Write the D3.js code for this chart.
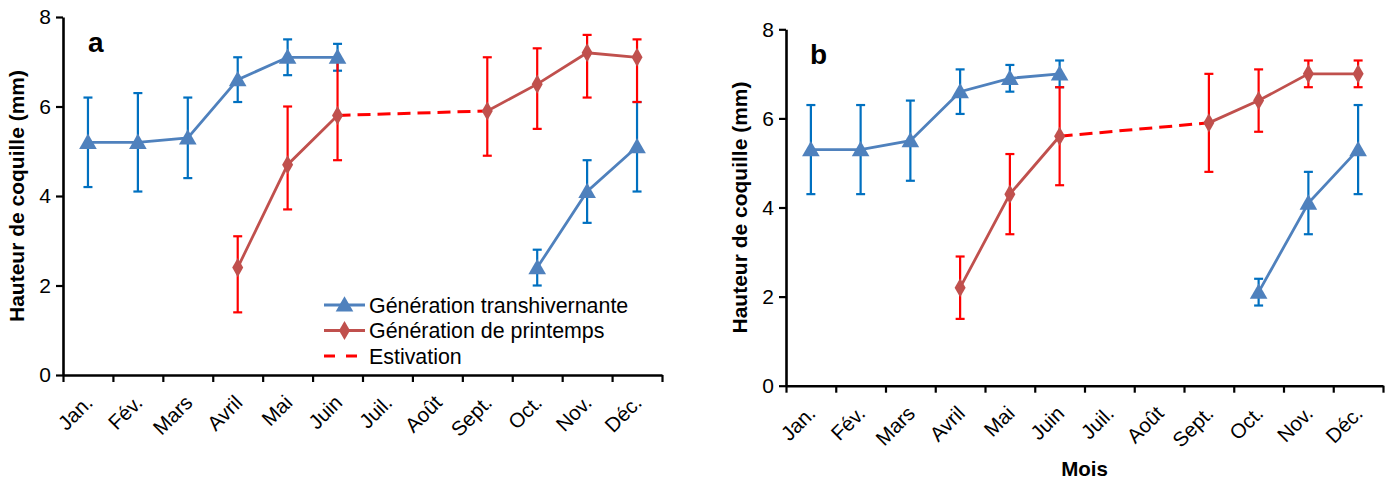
<!DOCTYPE html>
<html><head><meta charset="utf-8">
<script src="https://cdn.jsdelivr.net/npm/d3@7"></script>
<style>
body{margin:0;background:#fff;}
text{font-family:"Liberation Sans",Arial,sans-serif;}
</style></head>
<body><svg id="c" width="1395" height="482"></svg>
<script>
const months = ["Jan.","Fév.","Mars","Avril","Mai","Juin","Juil.","Août","Sept.","Oct.","Nov.","Déc."];
const yTicks = [0,2,4,6,8];
const legendLabels = ["Génération transhivernante","Génération de printemps","Estivation"];
const estivationMonths = ["Juin","Sept."];

// Panel a
const aTransMean = [5.2,5.2,5.3,6.6,7.1,7.1,null,null,null,2.4,4.1,5.1];
const aTransLow  = [4.2,4.1,4.4,6.1,6.7,6.8,null,null,null,2.0,3.4,4.1];
const aTransHigh = [6.2,6.3,6.2,7.1,7.5,7.4,null,null,null,2.8,4.8,6.1];
const aSpringMean = [null,null,null,2.4,4.7,5.8,null,null,5.9,6.5,7.2,7.1];
const aSpringLow  = [null,null,null,1.4,3.7,4.8,null,null,4.9,5.5,6.2,6.1];
const aSpringHigh = [null,null,null,3.1,6.0,7.0,null,null,7.1,7.3,7.6,7.5];

// Panel b
const bTransMean = [5.3,5.3,5.5,6.6,6.9,7.0,null,null,null,2.1,4.1,5.3];
const bTransLow  = [4.3,4.3,4.6,6.1,6.6,6.7,null,null,null,1.8,3.4,4.3];
const bTransHigh = [6.3,6.3,6.4,7.1,7.2,7.3,null,null,null,2.4,4.8,6.3];
const bSpringMean = [null,null,null,2.2,4.3,5.6,null,null,5.9,6.4,7.0,7.0];
const bSpringLow  = [null,null,null,1.5,3.4,4.5,null,null,4.8,5.7,6.7,6.7];
const bSpringHigh = [null,null,null,2.9,5.2,6.7,null,null,7.0,7.1,7.3,7.3];

const BLUE="#4f81bd", BLUE_ERR="#0070c0", RED="#c0504d", RED_ERR="#ff0000";
const svg = d3.select("#c");
const tri = d3.symbol().type(d3.symbolTriangle).size(135);
const dia = d3.symbol().type(d3.symbolDiamond).size(105);

function panel(cfg){
  const g = svg.append("g");
  const x = d3.scaleBand().domain(months).range([cfg.x0,cfg.x1]).padding(0);
  const xt = d3.scaleLinear().domain([0,12]).range([cfg.x0,cfg.x1]);
  const y = d3.scaleLinear().domain([0,8]).range([cfg.yb,cfg.yt]);
  const cx = m => x(m)+x.bandwidth()/2;

  // axes
  const ya = g.append("g").attr("transform",`translate(${cfg.x0},0)`)
    .call(d3.axisLeft(y).tickValues(yTicks).tickSize(7).tickSizeOuter(0).tickPadding(5));
  ya.select(".domain").attr("stroke","#000").attr("stroke-width",2.6);
  ya.selectAll(".tick line").attr("stroke-width",2.2);
  ya.selectAll(".tick text").attr("font-size",21).attr("fill","#000");
  const xa = g.append("g").attr("transform",`translate(0,${cfg.yb})`)
    .call(d3.axisBottom(xt).tickValues(d3.range(0,13)).tickFormat("").tickSize(7).tickSizeOuter(0));
  xa.select(".domain").attr("stroke","#000").attr("stroke-width",2.6);
  xa.selectAll(".tick line").attr("stroke-width",2.2);
  g.append("g").selectAll("text").data(months).join("text")
    .attr("transform",m=>`translate(${cx(m)+6},${cfg.yb+29}) rotate(-45)`)
    .attr("text-anchor","end").attr("font-size",20.5).attr("fill","#000").text(m=>m);

  // y title
  g.append("text").attr("transform",`translate(${cfg.ytx},${(cfg.yt+cfg.yb)/2}) rotate(-90)`)
    .attr("text-anchor","middle").attr("font-size",21).attr("font-weight","bold").text("Hauteur de coquille (mm)");
  // panel label
  g.append("text").attr("x",cfg.lx).attr("y",cfg.ly).attr("font-size",28).attr("font-weight","bold").text(cfg.label);

  const line = d3.line().defined(d=>d.v!=null).x(d=>cx(d.m)).y(d=>y(d.v));
  function series(mean,low,high,col,errCol,sym){
    const d = months.map((m,i)=>({m,v:mean[i],lo:low[i],hi:high[i]}));
    const dd = d.filter(e=>e.v!=null);
    const eg = g.append("g").attr("stroke",errCol).attr("stroke-width",2.2);
    eg.selectAll(".v").data(dd).join("line").attr("x1",e=>cx(e.m)).attr("x2",e=>cx(e.m)).attr("y1",e=>y(e.lo)).attr("y2",e=>y(e.hi));
    eg.selectAll(".c1").data(dd).join("line").attr("x1",e=>cx(e.m)-4.5).attr("x2",e=>cx(e.m)+4.5).attr("y1",e=>y(e.lo)).attr("y2",e=>y(e.lo));
    eg.selectAll(".c2").data(dd).join("line").attr("x1",e=>cx(e.m)-4.5).attr("x2",e=>cx(e.m)+4.5).attr("y1",e=>y(e.hi)).attr("y2",e=>y(e.hi));
    g.append("path").attr("d",line(d)).attr("fill","none").attr("stroke",col).attr("stroke-width",2.8);
    return {d,dd,sym,col};
  }
  const s1 = series(cfg.tm,cfg.tl,cfg.th,BLUE,BLUE_ERR,tri);
  const s2 = series(cfg.sm,cfg.sl,cfg.sh,RED,RED_ERR,dia);
  // estivation dashed
  const est = estivationMonths.map(m=>({m,v:cfg.sm[months.indexOf(m)]}));
  g.append("path").attr("d",line(est)).attr("fill","none").attr("stroke",RED_ERR).attr("stroke-width",3).attr("stroke-dasharray","13,7");
  [s1,s2].forEach(s=>{
    g.append("g").selectAll("path").data(s.dd).join("path")
      .attr("transform",e=>`translate(${cx(e.m)},${y(e.v)+(s.sym===tri?1.5:0)})`)
      .attr("d",s.sym).attr("fill",s.col);
  });
  return g;
}

panel({x0:63,x1:662,yt:17,yb:375,ytx:24,lx:88,ly:52,label:"a",
  tm:aTransMean,tl:aTransLow,th:aTransHigh,sm:aSpringMean,sl:aSpringLow,sh:aSpringHigh});
panel({x0:786,x1:1383,yt:29.3,yb:385.7,ytx:747,lx:810,ly:64,label:"b",
  tm:bTransMean,tl:bTransLow,th:bTransHigh,sm:bSpringMean,sl:bSpringLow,sh:bSpringHigh});

// x title (panel b)
svg.append("text").attr("x",1084.5).attr("y",476).attr("text-anchor","middle")
  .attr("font-size",20.5).attr("font-weight","bold").text("Mois");

// legend (panel a)
const lg = svg.append("g");
const ly0 = 305, lstep = 25.5;
legendLabels.forEach((t,i)=>{
  const yy = ly0+i*lstep;
  if(i<2){
    lg.append("line").attr("x1",324).attr("x2",365).attr("y1",yy).attr("y2",yy)
      .attr("stroke",i===0?BLUE:RED).attr("stroke-width",2.8);
    lg.append("path").attr("transform",`translate(344.5,${yy+(i===0?1.5:0)})`).attr("d",i===0?tri:dia).attr("fill",i===0?BLUE:RED);
  } else {
    lg.append("line").attr("x1",324).attr("x2",358).attr("y1",yy).attr("y2",yy)
      .attr("stroke",RED_ERR).attr("stroke-width",3).attr("stroke-dasharray","11,11");
  }
  lg.append("text").attr("x",369).attr("y",yy+7.5).attr("font-size",21.4).attr("fill","#000").text(t);
});
</script></body></html>
